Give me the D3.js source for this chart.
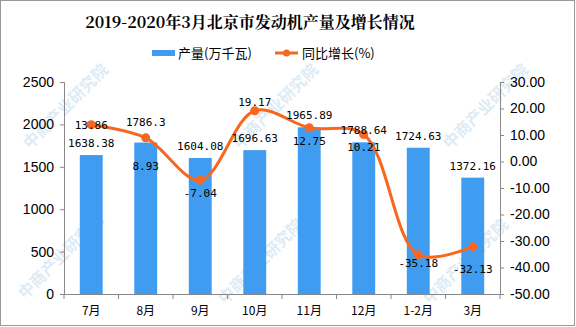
<!DOCTYPE html>
<html>
<head>
<meta charset="utf-8">
<script src="https://cdn.jsdelivr.net/npm/d3@7/dist/d3.min.js"></script>
<style>
  body { margin: 0; background: #fff; }
  svg { display: block; }
  .axis path, .axis line { stroke: #888; }
  .axis text { fill: #000; }
</style>
</head>
<body>
<div class="chart"></div>
<script>
var months = ["7月", "8月", "9月", "10月", "11月", "12月", "1-2月", "3月"];
var output = [1638.38, 1786.3, 1604.08, 1696.63, 1965.89, 1788.64, 1724.63, 1372.16];
var growth = [13.86, 8.93, -7.04, 19.17, 12.75, 10.21, -35.18, -32.13];
var leftTicks = [0, 500, 1000, 1500, 2000, 2500];
var rightTicks = [30, 20, 10, 0, -10, -20, -30, -40, -50];

var width = 576, height = 327;
var margin = {top: 82, right: 76, bottom: 33, left: 64};
var w = width - margin.left - margin.right;
var h = height - margin.top - margin.bottom;

var svg = d3.select(".chart").append("svg")
  .attr("width", width)
  .attr("height", height);

// frame
svg.append("rect")
  .attr("x", 0.5).attr("y", 0.5)
  .attr("width", width - 2).attr("height", height - 2)
  .attr("fill", "#fff").attr("stroke", "#999");

// watermark
var wm = svg.append("g").style("pointer-events", "none");
[[30, 150], [240, 150], [450, 150], [25, 300], [225, 305], [430, 305]].forEach(function(p) {
  wm.append("text")
    .attr("transform", "translate(" + p[0] + "," + p[1] + ") rotate(-45)")
    .attr("font-family", "Noto Sans CJK SC")
    .attr("font-size", 16)
    .attr("font-weight", "bold")
    .attr("fill", "#c9dff0")
    .attr("opacity", 0.6)
    .text("中商产业研究院");
});

svg.append("text")
  .attr("x", 250).attr("y", 28)
  .attr("text-anchor", "middle")
  .attr("font-family", "Noto Serif CJK SC, Noto Sans CJK SC")
  .attr("font-size", 16)
  .attr("font-weight", "bold")
  .text("2019-2020年3月北京市发动机产量及增长情况");

// legend
var lg = svg.append("g").attr("font-family", "Noto Sans CJK SC").attr("font-size", 13);
lg.append("rect").attr("x", 152).attr("y", 50).attr("width", 23).attr("height", 6).attr("fill", "#3f9cf0");
lg.append("text").attr("x", 178).attr("y", 58).text("产量(万千瓦)");
lg.append("line").attr("x1", 275).attr("x2", 298).attr("y1", 53).attr("y2", 53)
  .attr("stroke", "#f7671f").attr("stroke-width", 3);
lg.append("circle").attr("cx", 286.5).attr("cy", 53).attr("r", 3.5).attr("fill", "#f7671f");
lg.append("text").attr("x", 302).attr("y", 58).text("同比增长(%)");

var g = svg.append("g").attr("transform", "translate(" + margin.left + "," + margin.top + ")");

var x = d3.scaleBand().domain(months).range([0, w]);
var y = d3.scaleLinear().domain([0, 2500]).range([h, 0]);
var y2 = d3.scaleLinear().domain([-50, 30]).range([h, 0]);

g.append("g").attr("class", "axis")
  .call(d3.axisLeft(y).tickValues(leftTicks).tickSize(4).tickPadding(6).tickFormat(d3.format("d")))
  .call(function(a) { a.selectAll("text").attr("font-family", "Liberation Sans").attr("font-size", 14); });

g.append("g").attr("class", "axis")
  .attr("transform", "translate(" + w + ",0)")
  .call(d3.axisRight(y2).tickValues(rightTicks).tickSize(4).tickPadding(6))
  .call(function(a) {
    a.selectAll("text").attr("font-family", "Liberation Sans").attr("font-size", 14)
      .text(function(d) { return d.toFixed(2); });
  });

var xa = g.append("g").attr("class", "axis")
  .attr("transform", "translate(0," + h + ")")
  .call(d3.axisBottom(x).tickSize(0).tickPadding(12));
xa.selectAll("text").attr("font-family", "Noto Sans CJK SC").attr("font-size", 12);
xa.selectAll(".edge").data(d3.range(months.length + 1)).enter().append("line")
  .attr("x1", function(i) { return i * x.bandwidth(); })
  .attr("x2", function(i) { return i * x.bandwidth(); })
  .attr("y1", 0).attr("y2", 5)
  .attr("stroke", "#888");

var barW = x.bandwidth() * 0.42;
g.selectAll(".bar").data(output).enter().append("rect")
  .attr("fill", "#3f9cf0")
  .attr("x", function(d, i) { return x(months[i]) + (x.bandwidth() - barW) / 2; })
  .attr("width", barW)
  .attr("y", function(d) { return y(d); })
  .attr("height", function(d) { return h - y(d); });

var cx = function(i) { return x(months[i]) + x.bandwidth() / 2; };

var line = d3.line()
  .x(function(d, i) { return cx(i); })
  .y(function(d) { return y2(d); })
  .curve(d3.curveCatmullRom.alpha(0.5));

g.append("path").datum(growth)
  .attr("d", line)
  .attr("fill", "none")
  .attr("stroke", "#f7671f")
  .attr("stroke-width", 3);

g.selectAll(".dot").data(growth).enter().append("circle")
  .attr("cx", function(d, i) { return cx(i); })
  .attr("cy", function(d) { return y2(d); })
  .attr("r", 4.5)
  .attr("fill", "#f7671f");

var labelFont = "DejaVu Sans Mono, Liberation Mono";

g.selectAll(".blab").data(output).enter().append("text")
  .attr("x", function(d, i) { return cx(i); })
  .attr("y", function(d, i) { return y(d) - (i == 1 ? 17 : 8); })
  .attr("text-anchor", "middle")
  .attr("font-family", labelFont)
  .attr("font-size", 11)
  .text(function(d) { return d; });

// line labels: first one sits on the point, 10月 above, the rest below
g.selectAll(".llab").data(growth).enter().append("text")
  .attr("x", function(d, i) { return cx(i); })
  .attr("y", function(d, i) {
    var py = y2(d);
    if (i == 0) return py + 4;
    if (i == 3) return py - 5;
    if (i == 1) return py + 32;
    if (i == 7) return py + 26;
    return py + (i == 6 ? 12 : 17);
  })
  .attr("text-anchor", "middle")
  .attr("font-family", labelFont)
  .attr("font-size", 11)
  .text(function(d) { return d; });
</script>
</body>
</html>
